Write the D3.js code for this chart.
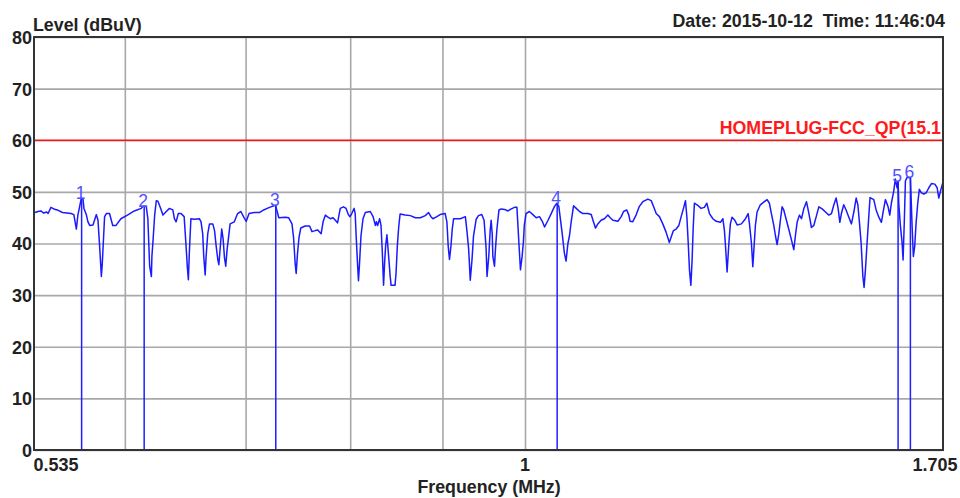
<!DOCTYPE html>
<html>
<head>
<meta charset="utf-8">
<script src="https://cdn.jsdelivr.net/npm/d3@7"></script>
<style>
  body { margin: 0; background: #fff; }
  svg { display: block; font-family: "Liberation Sans", Arial, sans-serif; }
  .grid line { stroke: #a8a8a8; stroke-width: 1.6; }
  .grid path { display: none; }
  .tick text { font-size: 18px; font-weight: bold; fill: #222; }
  .title { font-size: 17.8px; font-weight: bold; fill: #222; white-space: pre; }
</style>
</head>
<body>
<svg width="960" height="498"></svg>
<script>
// sweep trace, frequency in MHz and level in dBuV
const freqMHz = [
  0.5350,0.5370,0.5390,0.5410,0.5430,0.5440,0.5460,0.5480,0.5504,0.5541,0.5603,0.5622,0.5640,0.5651,0.5664,0.5676,
  0.5688,0.5695,0.5713,0.5724,0.5737,0.5761,0.5786,0.5798,0.5810,0.5823,0.5830,0.5840,0.5847,0.5860,0.5884,0.5908,
  0.5933,0.5970,0.6020,0.6073,0.6127,0.6140,0.6166,0.6179,0.6193,0.6207,0.6211,0.6219,0.6233,0.6246,0.6259,0.6281,
  0.6299,0.6326,0.6352,0.6379,0.6392,0.6406,0.6424,0.6446,0.6472,0.6486,0.6498,0.6507,0.6515,0.6528,0.6556,0.6599,
  0.6613,0.6627,0.6636,0.6648,0.6656,0.6670,0.6685,0.6713,0.6728,0.6742,0.6756,0.6765,0.6777,0.6790,0.6802,0.6814,
  0.6825,0.6837,0.6848,0.6863,0.6900,0.6929,0.6958,0.6986,0.7006,0.7031,0.7078,0.7124,0.7164,0.7195,0.7242,0.7272,
  0.7288,0.7303,0.7365,0.7395,0.7427,0.7442,0.7457,0.7467,0.7479,0.7494,0.7511,0.7553,0.7596,0.7619,0.7652,0.7675,
  0.7709,0.7728,0.7751,0.7768,0.7800,0.7827,0.7872,0.7899,0.7932,0.7958,0.7981,0.7998,0.8016,0.8040,0.8051,0.8061,
  0.8075,0.8085,0.8096,0.8111,0.8132,0.8156,0.8208,0.8237,0.8261,0.8272,0.8285,0.8306,0.8321,0.8335,0.8348,0.8359,
  0.8370,0.8384,0.8395,0.8408,0.8419,0.8429,0.8471,0.8482,0.8496,0.8511,0.8526,0.8582,0.8638,0.8694,0.8749,0.8805,
  0.8842,0.8869,0.8891,0.8936,0.8973,0.9031,0.9051,0.9066,0.9081,0.9098,0.9113,0.9129,0.9208,0.9267,0.9287,0.9306,
  0.9325,0.9346,0.9364,0.9396,0.9423,0.9463,0.9491,0.9515,0.9527,0.9548,0.9565,0.9577,0.9590,0.9598,0.9618,0.9631,
  0.9648,0.9673,0.9701,0.9743,0.9785,0.9826,0.9867,0.9897,0.9909,0.9922,0.9942,0.9963,0.9979,0.9991,1.0013,1.0056,
  1.0101,1.0144,1.0187,1.0223,1.0253,1.0298,1.0340,1.0384,1.0415,1.0441,1.0458,1.0484,1.0515,1.0538,1.0562,1.0584,
  1.0607,1.0639,1.0676,1.0721,1.0768,1.0836,1.0882,1.0913,1.0941,1.0974,1.1020,1.1067,1.1116,1.1149,1.1188,1.1259,
  1.1307,1.1340,1.1388,1.1417,1.1436,1.1473,1.1523,1.1572,1.1623,1.1698,1.1748,1.1782,1.1823,1.1872,1.1923,1.1973,
  1.2023,1.2050,1.2086,1.2128,1.2170,1.2206,1.2242,1.2273,1.2295,1.2316,1.2336,1.2358,1.2378,1.2394,1.2414,1.2467,
  1.2520,1.2573,1.2612,1.2655,1.2710,1.2764,1.2834,1.2873,1.2899,1.2915,1.2943,1.2971,1.2997,1.3025,1.3071,1.3110,
  1.3182,1.3250,1.3296,1.3318,1.3351,1.3375,1.3397,1.3419,1.3448,1.3504,1.3563,1.3621,1.3661,1.3696,1.3738,1.3767,
  1.3796,1.3826,1.3854,1.3884,1.3914,1.3954,1.4002,1.4049,1.4093,1.4122,1.4153,1.4195,1.4232,1.4276,1.4323,1.4354,
  1.4385,1.4414,1.4458,1.4500,1.4551,1.4613,1.4675,1.4739,1.4788,1.4833,1.4876,1.4914,1.4946,1.4976,1.5021,1.5066,
  1.5119,1.5169,1.5216,1.5261,1.5294,1.5325,1.5358,1.5391,1.5416,1.5442,1.5475,1.5508,1.5534,1.5608,1.5655,1.5709,
  1.5761,1.5795,1.5841,1.5896,1.5930,1.5962,1.6010,1.6044,1.6079,1.6100,1.6114,1.6147,1.6183,1.6203,1.6230,1.6251,
  1.6286,1.6355,1.6370,1.6390,1.6417,1.6446,1.6473,1.6509,1.6543,1.6586,1.6637,1.6687,1.6745,1.6800,1.6873,1.6923,
  1.6959,1.6994,1.7045,1.7050
]
const levelDb = [
  46.0,46.2,46.3,45.9,46.1,45.8,47.0,46.7,46.5,46.0,45.8,45.6,42.8,45.5,47.2,48.8,
  48.6,46.8,45.5,44.2,43.5,43.6,45.6,44.5,39.5,33.6,36.2,41.5,45.2,45.8,45.8,43.5,
  43.5,44.8,45.5,46.3,46.8,47.2,47.2,44.8,35.6,33.6,37.5,40.2,45.5,48.3,48.2,46.8,
  45.5,46.2,46.8,46.5,44.8,44.2,45.8,45.8,45.2,40.2,35.6,33.0,38.2,44.8,44.7,44.8,
  44.2,41.9,37.5,33.9,37.5,41.9,43.8,43.8,42.5,39.5,36.9,35.9,39.2,42.8,40.9,37.2,
  35.6,38.9,40.9,43.8,44.2,45.8,46.2,45.0,44.3,45.8,46.0,46.0,46.5,46.8,47.2,47.4,
  46.2,45.0,45.1,45.0,43.8,41.2,36.2,34.2,37.9,41.2,43.0,43.4,43.4,42.3,42.5,42.6,
  41.9,44.2,45.5,45.2,44.8,45.0,44.0,46.8,47.1,46.8,45.6,45.2,45.8,46.8,45.8,41.5,
  36.2,32.8,36.2,41.5,44.8,46.0,46.2,45.2,43.5,44.2,43.5,44.8,43.5,38.2,31.9,36.2,
  39.5,41.7,39.2,36.2,33.6,31.9,31.9,34.2,39.5,43.2,45.7,45.5,45.4,45.0,45.0,45.4,
  46.0,45.2,44.8,45.2,45.6,45.8,44.2,39.5,36.9,39.5,42.8,44.8,44.8,45.2,42.2,38.9,
  32.9,36.9,41.5,44.7,45.4,45.6,44.5,39.2,33.6,37.5,42.5,44.5,41.9,37.5,35.6,39.2,
  42.8,46.5,46.7,46.6,46.3,46.7,47.0,47.0,43.8,40.2,34.9,37.5,40.2,43.5,45.8,46.2,
  45.6,45.0,45.2,44.3,43.2,44.5,45.8,47.2,47.8,47.2,45.2,42.2,38.2,36.6,39.9,41.5,
  44.2,47.3,46.8,46.2,45.8,45.8,45.6,44.2,43.0,43.8,44.5,44.8,45.5,45.0,44.5,44.3,
  45.2,46.2,46.5,45.5,44.3,44.2,45.5,47.2,48.1,48.6,48.3,47.2,45.8,45.2,43.8,42.2,
  40.2,41.2,42.5,42.8,43.5,45.2,46.8,48.3,45.2,40.2,34.9,31.9,36.9,42.8,47.8,47.4,
  46.8,47.0,47.8,45.8,44.8,44.3,44.1,44.8,42.5,39.8,34.5,39.8,43.8,45.1,44.5,43.6,
  43.8,44.8,45.8,43.8,40.1,35.5,39.5,43.5,46.1,47.5,48.0,48.5,47.8,45.8,43.5,41.5,
  39.8,41.8,44.5,47.1,46.5,44.8,42.8,40.8,38.8,41.5,44.1,45.5,44.8,46.8,48.1,46.5,
  44.8,43.1,43.5,45.1,47.1,46.7,46.1,45.5,45.8,47.5,48.8,46.8,44.1,45.8,47.5,46.5,
  45.1,43.8,46.1,48.8,47.5,44.1,40.1,33.8,31.5,34.8,40.1,45.1,48.9,48.5,46.5,45.1,
  44.1,46.1,48.5,47.1,45.5,47.8,50.1,52.5,50.8,52.1,47.8,43.5,40.1,36.8,44.8,52.1,
  52.8,52.8,48.8,43.5,37.5,39.5,43.8,47.8,50.5,49.8,49.6,49.8,50.8,51.6,51.5,50.8,
  48.8,50.1,51.8,51.5
]

// markers
const markerLabels = ["1", "2", "3", "4", "5", "6"]
const markerFreq = [0.5678, 0.6150, 0.7275, 1.0419, 1.6100, 1.6355]
const markerLevel = [48.8, 47.2, 47.4, 47.8, 52.1, 52.8]

// limit line
const limitLevel = 60
const limitLabel = "HOMEPLUG-FCC_QP(15.1"

const yTicks = [0, 10, 20, 30, 40, 50, 60, 70, 80]
const xGrid = [0.6, 0.7, 0.8, 0.9, 1]
const xTickLabels = [0.535, 1, 1.705]

const svg = d3.select("svg")

const plotLeft = 35, plotRight = 943, plotTop = 37, plotBottom = 450

const x = d3.scaleLog()
  .domain([0.535, 1.705])
  .range([plotLeft, plotRight])

const y = d3.scaleLinear()
  .domain([0, 80])
  .range([plotBottom, plotTop])

// horizontal grid + y labels
svg.append("g")
  .attr("class", "grid")
  .attr("transform", `translate(${plotLeft},0)`)
  .call(d3.axisLeft(y).tickValues(yTicks).tickSize(-(plotRight - plotLeft)).tickPadding(3).tickFormat(d3.format("d")))
  .call(g => g.selectAll(".tick text").attr("dy", "0.36em"))

// vertical grid
svg.append("g")
  .attr("class", "grid")
  .attr("transform", `translate(0,${plotBottom})`)
  .call(d3.axisBottom(x).tickValues(xGrid).tickSize(-(plotBottom - plotTop)).tickFormat(""))

// x labels
svg.append("g")
  .attr("transform", `translate(0,${plotBottom})`)
  .call(d3.axisBottom(x).tickValues(xTickLabels).tickSize(0).tickPadding(8).tickFormat(d => String(d)))
  .call(g => g.select(".domain").remove())
  .call(g => g.selectAll(".tick text")
    .attr("text-anchor", (d, i) => i === 0 ? "start" : (i === 2 ? "end" : "middle"))
    .attr("dx", (d, i) => i === 0 ? -2 : (i === 2 ? 14 : -0.5)))

// limit line
svg.append("line")
  .attr("x1", plotLeft).attr("x2", plotRight)
  .attr("y1", y(limitLevel)).attr("y2", y(limitLevel))
  .attr("stroke", "#ff1010")
  .attr("stroke-width", 1.6)

svg.append("text")
  .attr("class", "title")
  .attr("x", plotRight - 2)
  .attr("y", y(limitLevel) - 6)
  .attr("text-anchor", "end")
  .style("fill", "#ff1a1a")
  .text(limitLabel)

// marker lines
const markers = markerFreq.map((f, i) => ({ f: f, level: markerLevel[i], label: markerLabels[i] }))

svg.append("g")
  .selectAll("line")
  .data(markers)
  .join("line")
  .attr("x1", d => x(d.f)).attr("x2", d => x(d.f))
  .attr("y1", d => y(d.level)).attr("y2", y(0))
  .attr("stroke", "#1e1eff")
  .attr("stroke-width", 1.5)

// trace
const trace = freqMHz.map((f, i) => ({ f: f, level: levelDb[i] }))

const line = d3.line()
  .x(d => x(d.f))
  .y(d => y(d.level))

svg.append("path")
  .datum(trace)
  .attr("fill", "none")
  .attr("stroke", "#1a1aff")
  .attr("stroke-width", 1.5)
  .attr("stroke-linejoin", "round")
  .attr("d", line)

svg.append("g")
  .selectAll("text")
  .data(markers)
  .join("text")
  .attr("x", d => x(d.f) - 1)
  .attr("y", d => y(d.level) + 1)
  .attr("text-anchor", "middle")
  .attr("font-size", 17.5)
  .attr("fill", "#5050ff")
  .text(d => d.label)

// frame
svg.append("rect")
  .attr("x", plotLeft - 1).attr("y", plotTop)
  .attr("width", plotRight - plotLeft + 1).attr("height", plotBottom - plotTop)
  .attr("fill", "none")
  .attr("stroke", "#333")
  .attr("stroke-width", 2)

// titles
svg.append("text").attr("class", "title").attr("x", 33).attr("y", 31).text("Level (dBuV)")
svg.append("text").attr("class", "title").attr("x", 945).attr("y", 27).attr("text-anchor", "end").text("Date: 2015-10-12  Time: 11:46:04")
svg.append("text").attr("class", "title").attr("x", (plotLeft + plotRight) / 2).attr("y", 493).attr("text-anchor", "middle").text("Frequency (MHz)")
</script>
</body>
</html>
